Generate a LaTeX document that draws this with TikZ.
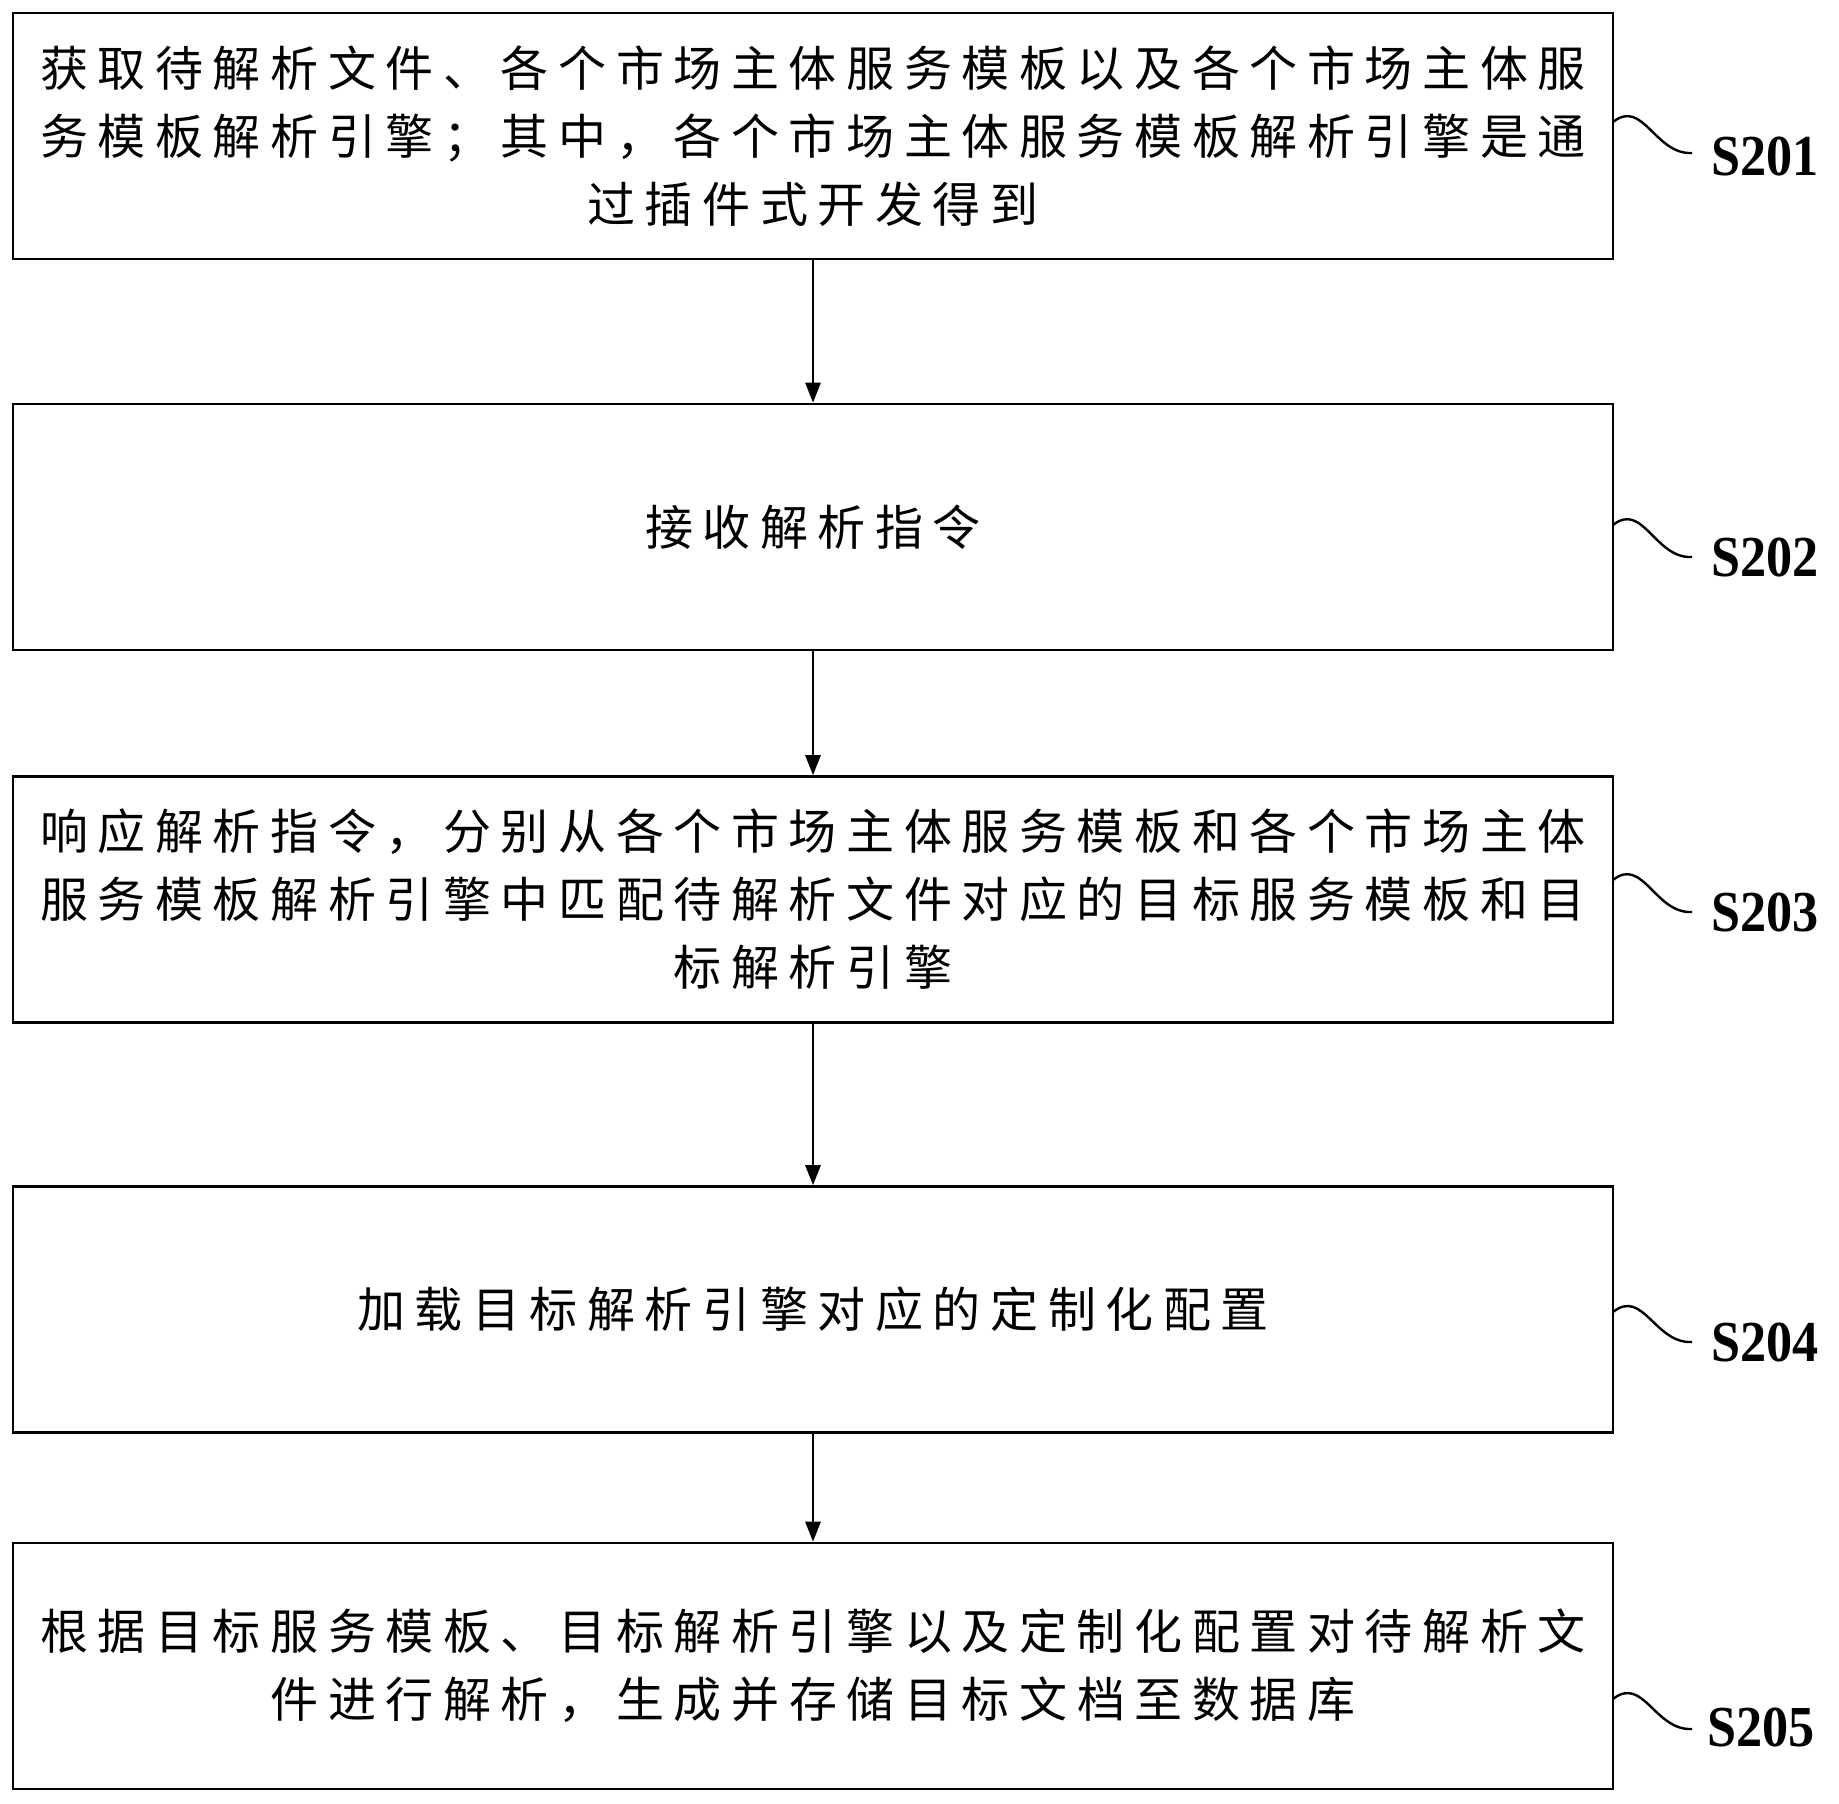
\documentclass[tikz,border=0pt]{standalone}
\usepackage{fontspec}
\usetikzlibrary{arrows.meta}
\newfontfamily\cjk{Noto Sans CJK SC}[LetterSpace=20]
\newfontfamily\lblfont{Liberation Serif}[FakeStretch=0.9]
\tikzset{
  x=1pt, y=-1pt,
  stepbox/.style={draw, line width=2.6pt, minimum width=1600pt, minimum height=246pt,
    inner sep=0pt, align=center, font=\cjk\fontsize{48}{68}\selectfont},
  arr/.style={line width=2.8pt, -{Triangle[length=20pt,width=15pt]}},
  lbl/.style={anchor=west, inner sep=0pt, font=\lblfont\bfseries\fontsize{58}{60}\selectfont},
  wave/.style={line width=2.4pt}
}
\begin{document}
\begin{tikzpicture}
\fill[white] (0,0) rectangle (1839,1804);
\useasboundingbox (0,0) rectangle (1839,1804);

\node[stepbox] (b1) at (813,136) {获取待解析文件、各个市场主体服务模板以及各个市场主体服\\务模板解析引擎；其中，各个市场主体服务模板解析引擎是通\\过插件式开发得到};
\node[stepbox] (b2) at (813,527) {接收解析指令};
\node[stepbox] (b3) at (813,899.5) {响应解析指令，分别从各个市场主体服务模板和各个市场主体\\服务模板解析引擎中匹配待解析文件对应的目标服务模板和目\\标解析引擎};
\node[stepbox] (b4) at (813,1309.5) {加载目标解析引擎对应的定制化配置};
\node[stepbox] (b5) at (813,1666) {根据目标服务模板、目标解析引擎以及定制化配置对待解析文\\件进行解析，生成并存储目标文档至数据库};

\draw[arr] (b1.south) -- (b2.north);
\draw[arr] (b2.south) -- (b3.north);
\draw[arr] (b3.south) -- (b4.north);
\draw[arr] (b4.south) -- (b5.north);

\node[lbl] (s1) at (1711,156) {S201};
\node[lbl] (s2) at (1711,557) {S202};
\node[lbl] (s3) at (1711,912) {S203};
\node[lbl] (s4) at (1711,1342) {S204};
\node[lbl] (s5) at (1707,1727) {S205};

\coordinate (w1) at (1613,122);
\coordinate (w2) at (1613,525);
\coordinate (w3) at (1613,880);
\coordinate (w4) at (1613,1312);
\coordinate (w5) at (1613,1699);
\coordinate (e1) at (1692,153);
\coordinate (e2) at (1692,557);
\coordinate (e3) at (1692,912);
\coordinate (e4) at (1692,1342);
\coordinate (e5) at (1692,1729);

\foreach \i in {1,...,5}{
  \draw[wave] (w\i) .. controls +(30,-24) and +(-37,2) .. (e\i);
}
\end{tikzpicture}
\end{document}
